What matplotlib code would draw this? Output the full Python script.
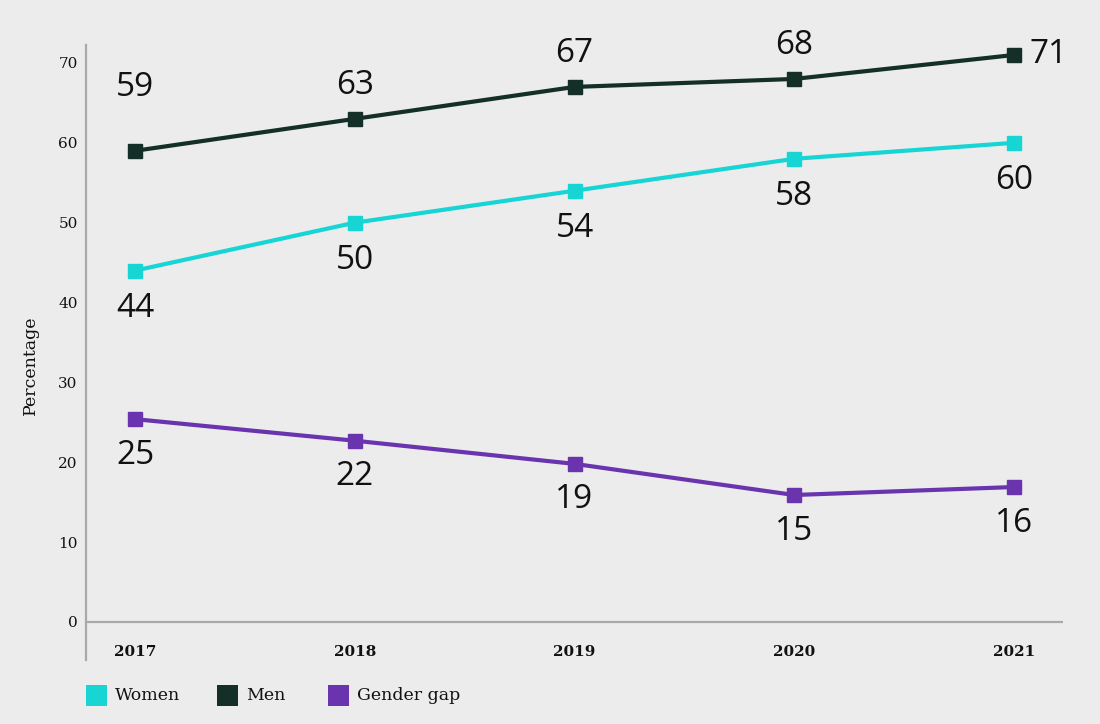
import matplotlib.pyplot as plt
from matplotlib.patches import Rectangle

# data
years = [2017, 2018, 2019, 2020, 2021]
men = [59, 63, 67, 68, 71]
women = [44, 50, 54, 58, 60]
gap = [25.4, 22.7, 19.8, 15.9, 16.9]
gap_labels = [25, 22, 19, 15, 16]

series_names = ['Women', 'Men', 'Gender gap']
colors = ['#17d5d5', '#132f28', '#6934ae']
bg = '#ececec'
axis_grey = '#a9a9a9'

W, H = 1100, 724
fig = plt.figure(figsize=(W / 100, H / 100), dpi=100, facecolor=bg)
ax = fig.add_axes([86 / W, 1 - 660 / H, (1063 - 86) / W, (660 - 45) / H])
ax.set_facecolor(bg)

ax.set_xlim(2016.777, 2021.223)
ax.set_ylim(-4.76, 72.25)

for s in ['top', 'right', 'bottom']:
    ax.spines[s].set_visible(False)
ax.spines['left'].set_color(axis_grey)
ax.spines['left'].set_linewidth(1.6)
ax.axhline(0, color=axis_grey, lw=1.6, zorder=1)

ax.set_xticks([])
ax.set_yticks(range(0, 71, 10))
ax.tick_params(axis='y', length=0, pad=6, labelsize=11, labelcolor='#111111')
for lab in ax.get_yticklabels():
    lab.set_fontfamily('DejaVu Serif')

for yr in years:
    ax.text(yr, -3.76, str(yr), ha='center', va='center', fontsize=11,
            fontweight='bold', family='DejaVu Serif', color='#111111')

fig.text(30 / W, 1 - 365 / H, 'Percentage', rotation=90, ha='center', va='center',
         fontsize=12.5, family='DejaVu Serif', color='#111111')

style = dict(lw=3, marker='s', markersize=10, zorder=3)
ax.plot(years, men, color=colors[1], **style)
ax.plot(years, women, color=colors[0], **style)
ax.plot(years, gap, color=colors[2], **style)

lab_kw = dict(textcoords='offset pixels', fontsize=24, family='Open Sans',
              color='#111111', va='center')

# men labels above (last one to the right)
for i, (x, v) in enumerate(zip(years, men)):
    if i == len(years) - 1:
        ax.annotate(str(v), (x, v), xytext=(16, 0), ha='left', **lab_kw)
    else:
        dy = 63 if i == 0 else 33
        ax.annotate(str(v), (x, v), xytext=(0, dy), ha='center', **lab_kw)

# women labels below
for x, v in zip(years, women):
    ax.annotate(str(v), (x, v), xytext=(0, -38), ha='center', **lab_kw)

# gap labels below
for x, v, t in zip(years, gap, gap_labels):
    ax.annotate(str(t), (x, v), xytext=(0, -36), ha='center', **lab_kw)

# legend at the bottom
sq_x = [86, 217, 328]
for name, c, x0 in zip(series_names, colors, sq_x):
    fig.add_artist(Rectangle((x0 / W, 1 - 706 / H), 21 / W, 21 / H,
                             transform=fig.transFigure, facecolor=c, edgecolor='none'))
    fig.text((x0 + 29) / W, 1 - 695 / H, name, ha='left', va='center',
             fontsize=12.5, family='DejaVu Serif', color='#111111')

fig.savefig('out.png', dpi=100, facecolor=bg)
